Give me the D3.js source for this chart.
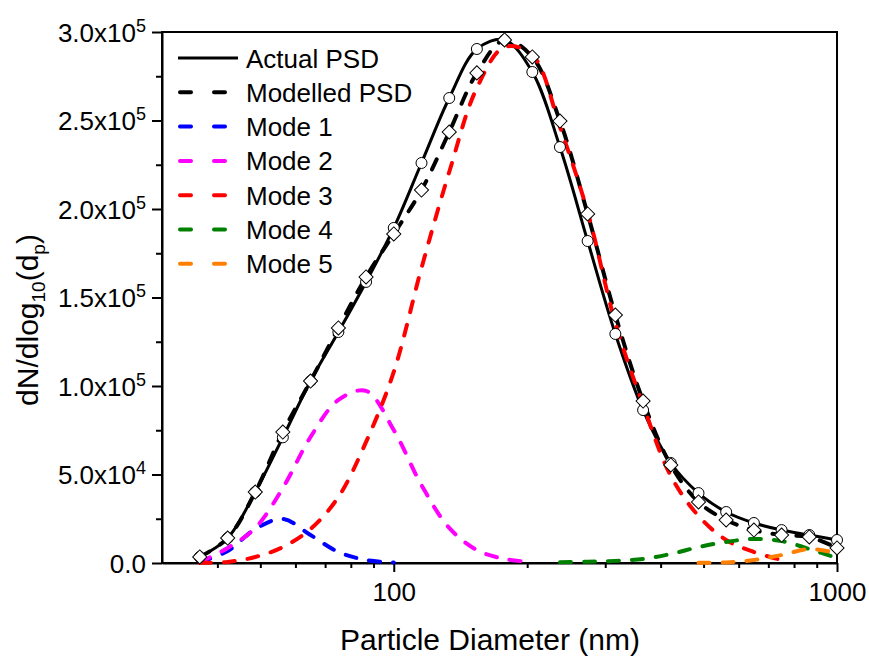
<!DOCTYPE html>
<html lang="en">
<head>
<meta charset="UTF-8">
<title>Particle size distribution</title>
<script src="https://cdn.jsdelivr.net/npm/d3@7"></script>
<style>
  body { margin: 0; background: #fff; }
  text { font-family: Arial, "Liberation Sans", sans-serif; fill: #000; }
</style>
</head>
<body>
<svg id="chart" width="869" height="657"></svg>
<script>

// data (16 channels per decade)
const diameters   = [36.5, 42.2, 48.7, 56.2, 64.9, 75.0, 86.6, 100, 115.5, 133.4, 154.0, 177.8,
                     205.4, 237.1, 273.8, 316.2, 365.2, 421.7, 487.0, 562.3, 649.4, 749.9, 866.0, 1000];
const actualPSD   = [3400, 14100, 40100, 71000, 102800, 130500, 158800, 189300, 226000, 262700, 290400, 295500,
                     277400, 235000, 181900, 129400, 86400, 56500, 39500, 28800, 22600, 18600, 15800, 13000];
const modelledPSD = [3400, 14100, 40100, 74000, 102800, 132800, 161600, 185900, 210700, 243500, 276900, 295500,
                     285900, 249700, 197200, 140100, 91500, 55400, 34500, 24300, 18600, 15800, 14700, 8500];
const mode1 = [500, 6800, 19200, 24900, 15800, 6200, 1700, 300, null, null, null, null,
               null, null, null, null, null, null, null, null, null, null, null, null];
const mode2 = [500, 8500, 19800, 42400, 71200, 92100, 97200, 75100, 44000, 19800, 7300, 2300,
               500, null, null, null, null, null, null, null, null, null, null, null];
const mode3 = [200, 600, 3400, 9000, 19200, 37300, 68400, 108000, 166700, 220900, 268400, 291500,
               287000, 246300, 198300, 135600, 89300, 49200, 26600, 13000, 6200, 1700, null, null];
const mode4 = [null, null, null, null, null, null, null, null, null, null, null, null,
               null, 400, 700, 1200, 2300, 5100, 9000, 11900, 13600, 12400, 7900, 2800];
const mode5 = [null, null, null, null, null, null, null, null, null, null, null, null,
               null, null, null, null, null, null, 100, 300, 1700, 4500, 7900, 5500];

const seriesNames  = ['Actual PSD', 'Modelled PSD', 'Mode 1', 'Mode 2', 'Mode 3', 'Mode 4', 'Mode 5'];
const seriesColors = ['#000000', '#000000', '#0000ff', '#ff00ff', '#ff0000', '#008000', '#ff8000'];
const seriesValues = [actualPSD, modelledPSD, mode1, mode2, mode3, mode4, mode5];

const xTickValues = [100, 1000];
const xTickLabels = ['100', '1000'];
const xMinorTicks = [40, 50, 60, 70, 80, 90, 200, 300, 400, 500, 600, 700, 800, 900];
const yTickValues = [0, 50000, 100000, 150000, 200000, 250000, 300000];
const yTickMantissa = ['0.0', '5.0x10', '1.0x10', '1.5x10', '2.0x10', '2.5x10', '3.0x10'];
const yTickExponent = ['', '4', '5', '5', '5', '5', '5'];
const yMinorTicks = [25000, 75000, 125000, 175000, 225000, 275000];

const svg = d3.select('#chart');
const plotLeft = 162, plotRight = 837, plotTop = 32, plotBottom = 563;

const x = d3.scaleLog().domain([30, 1000]).range([plotLeft, plotRight]);
const y = d3.scaleLinear().domain([0, 300000]).range([plotBottom, plotTop]);

// axes
const xAxis = svg.append('g').attr('transform', `translate(0,${plotBottom})`)
    .call(d3.axisBottom(x).tickValues(xTickValues).tickSize(9).tickSizeOuter(0).tickPadding(11)
        .tickFormat((d, i) => xTickLabels[i]));
svg.append('g').attr('transform', `translate(0,${plotBottom})`)
    .call(d3.axisBottom(x).tickValues(xMinorTicks).tickSize(5).tickSizeOuter(0).tickFormat(''))
    .call(g => g.select('.domain').remove());

const yAxis = svg.append('g').attr('transform', `translate(${plotLeft},0)`)
    .call(d3.axisLeft(y).tickValues(yTickValues).tickSize(10).tickSizeOuter(0).tickPadding(6)
        .tickFormat(''));
svg.append('g').attr('transform', `translate(${plotLeft},0)`)
    .call(d3.axisLeft(y).tickValues(yMinorTicks).tickSize(6).tickSizeOuter(0).tickFormat(''))
    .call(g => g.select('.domain').remove());

svg.selectAll('.tick line').attr('stroke-width', 2);
xAxis.selectAll('.tick text').style('font-size', '26px').attr('font-family', null);

yAxis.selectAll('.tick text').each(function (d, i) {
    const t = d3.select(this).attr('font-family', null).style('font-size', '26px').attr('dy', '0.35em');
    t.text(yTickMantissa[i]);
    if (yTickExponent[i]) {
        t.append('tspan').attr('dy', -10).style('font-size', '18px').text(yTickExponent[i]);
    }
});

// frame
svg.append('rect')
    .attr('x', plotLeft).attr('y', plotTop)
    .attr('width', plotRight - plotLeft).attr('height', plotBottom - plotTop)
    .attr('fill', 'none').attr('stroke', '#000').attr('stroke-width', 2);
svg.selectAll('.domain').attr('stroke-width', 2);

// curves
const line = d3.line()
    .defined(d => d[1] != null)
    .x(d => x(d[0]))
    .y(d => y(d[1]))
    .curve(d3.curveCatmullRom.alpha(0.5));

seriesValues.forEach((vals, i) => {
    const pts = diameters.map((dp, j) => [dp, vals[j]]);
    svg.append('path')
        .attr('d', line(pts))
        .attr('fill', 'none')
        .attr('stroke', seriesColors[i])
        .attr('stroke-width', i === 0 ? 3 : 4)
        .attr('stroke-linecap', i === 0 ? 'butt' : 'round')
        .attr('stroke-dasharray', i === 0 ? null : '11,13');
});

// markers
svg.append('g').selectAll('path')
    .data(diameters.map((dp, j) => [dp, actualPSD[j]]))
    .join('path')
    .attr('d', d3.symbol(d3.symbolCircle, 95))
    .attr('transform', d => `translate(${x(d[0])},${y(d[1])})`)
    .attr('fill', '#fff').attr('stroke', '#000').attr('stroke-width', 1);

svg.append('g').selectAll('path')
    .data(diameters.map((dp, j) => [dp, modelledPSD[j]]))
    .join('path')
    .attr('d', d3.symbol(d3.symbolSquare, 100))
    .attr('transform', d => `translate(${x(d[0])},${y(d[1])}) rotate(45)`)
    .attr('fill', '#fff').attr('stroke', '#000').attr('stroke-width', 1);

// legend
const legend = svg.append('g');
seriesNames.forEach((name, i) => {
    const ly = 58 + i * 34.3;
    if (i === 0) {
        legend.append('line').attr('x1', 178).attr('x2', 238).attr('y1', ly).attr('y2', ly)
            .attr('stroke', seriesColors[i]).attr('stroke-width', 3);
    } else {
        legend.append('line').attr('x1', 180).attr('x2', 226).attr('y1', ly).attr('y2', ly)
            .attr('stroke', seriesColors[i]).attr('stroke-width', 4)
            .attr('stroke-linecap', 'round').attr('stroke-dasharray', '11,23');
    }
    legend.append('text').attr('x', 246).attr('y', ly + 9.5)
        .style('font-size', '26px').text(name);
});

// axis titles
svg.append('text')
    .attr('x', 490).attr('y', 650)
    .attr('text-anchor', 'middle')
    .style('font-size', '30px')
    .text('Particle Diameter (nm)');

const yTitle = svg.append('text')
    .attr('transform', 'translate(38,320) rotate(-90)')
    .attr('text-anchor', 'middle')
    .style('font-size', '30px');
yTitle.append('tspan').text('dN/dlog');
yTitle.append('tspan').attr('dy', 7).style('font-size', '19px').text('10');
yTitle.append('tspan').attr('dy', -7).text('(d');
yTitle.append('tspan').attr('dy', 7).style('font-size', '19px').text('p');
yTitle.append('tspan').attr('dy', -7).text(')');

</script>
</body>
</html>
